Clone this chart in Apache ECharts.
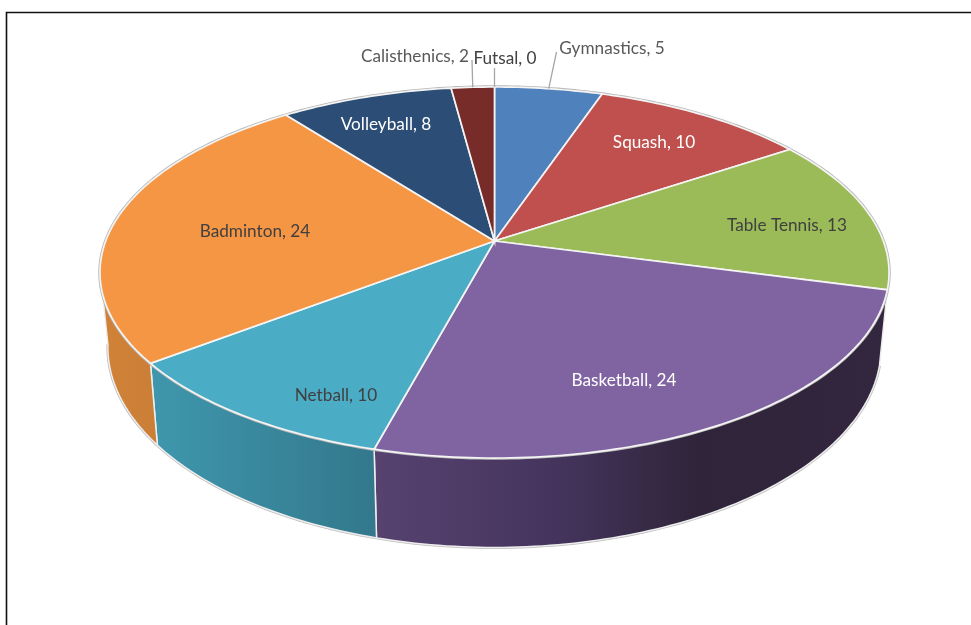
<!DOCTYPE html>
<html>
<head>
<meta charset="utf-8">
<style>html,body{margin:0;padding:0;background:#fff}#c{width:971px;height:625px}</style>
<script src="https://cdn.jsdelivr.net/npm/echarts@6/dist/echarts.min.js"></script>
</head>
<body>
<div id="c"></div>
<script>
const categories = ['Gymnastics','Squash','Table Tennis','Basketball','Netball','Badminton','Volleyball','Calisthenics','Futsal'];
const values = [5,10,13,24,10,24,8,2,0];

const topColors = ['#4f81bd','#c0504d','#9bbb59','#8064a2','#4bacc6','#f59644','#2c4d75','#772c2a','#5f7530'];
const labelColors = ['#595959','#ffffff','#404040','#ffffff','#404040','#404040','#ffffff','#595959','#404040'];
const labelCenters = [[612,48],[654,142],[787,225],[624,380],[336,395],[255,231],[386,124],[415,56],[505,58]];
const leaderEnds = [[556.5,52],null,null,null,null,null,null,[472,60],[494.5,68]];
const wallStops = {
  3: [[374,'#574270'],[560,'#44345c'],[700,'#2f2439'],[886,'#33263f']],
  4: [[150,'#3f97ad'],[374,'#33788c']],
  5: [[100,'#d08238'],[160,'#cb7e36']]
};

const P = {x:494.5, y:241, a:388.8, b:180.2, k:0.1698};
const B = {sx:0.98, sy:1.08, y:313};
const total = values.reduce((s,v)=>s+v,0);
const rad = d => d*Math.PI/180;
function rim(deg, bottom){
  const t = rad(deg), den = 1 + P.k*Math.cos(t);
  const X = P.a*Math.sin(t)/den, Y = P.b*Math.cos(t)/den;
  return bottom ? [P.x + X*B.sx, B.y - Y*B.sy] : [P.x + X, P.y - Y];
}
function arc(a0, a1, bottom){
  const pts = [], n = Math.max(2, Math.ceil(Math.abs(a1-a0)));
  for(let i=0;i<=n;i++) pts.push(rim(a0+(a1-a0)*i/n, bottom));
  return pts;
}
const tanR = 99.8, tanL = 261;
let acc = 0;
const rows = values.map((v,i)=>{ const s = acc; acc += v; return [i, s/total*360, acc/total*360]; });

function renderWall(params, api){
  const i = api.value(0);
  const a0 = Math.max(api.value(1), tanR), a1 = Math.min(api.value(2), tanL);
  if(a1 <= a0 || !wallStops[i]) return {type:'group', children:[]};
  const st = wallStops[i], x0 = st[0][0], x1 = st[st.length-1][0];
  const fill = new echarts.graphic.LinearGradient(x0,0,x1,0,
    st.map(s=>({offset:(s[0]-x0)/(x1-x0), color:s[1]})), true);
  const pts = arc(a0,a1,false).concat(arc(a1,a0,true));
  return {type:'group', children:[
    {type:'polyline', shape:{points:arc(a0,a1,true)}, style:{fill:null, stroke:'#bdbdbd', lineWidth:3}},
    {type:'polygon', shape:{points:pts}, style:{fill, stroke:'#eeeeee', lineWidth:1.5}}
  ]};
}
function renderTop(params, api){
  const i = api.value(0), a0 = api.value(1), a1 = api.value(2);
  const ch = [];
  if(a1 > a0){
    ch.push({type:'polyline', shape:{points:arc(a0,a1,false)}, style:{fill:null, stroke:'#b8b8b8', lineWidth:3.4}});
    ch.push({type:'polygon', shape:{points:[[P.x,P.y]].concat(arc(a0,a1,false))},
      style:{fill:topColors[i], stroke:'#f4f4f4', lineWidth:1.7}});
  }
  return {type:'group', children:ch};
}
function renderLabel(params, api){
  const i = api.value(0), mid = (api.value(1)+api.value(2))/2;
  const c = labelCenters[i], ch = [];
  if(leaderEnds[i]){
    const s = rim(mid,false), e = leaderEnds[i];
    ch.push({type:'line', shape:{x1:s[0],y1:s[1],x2:e[0],y2:e[1]}, style:{stroke:'#a6a6a6', lineWidth:1.3}});
  }
  ch.push({type:'text', x:c[0], y:c[1], style:{
    text:categories[i]+', '+values[i], fill:labelColors[i],
    font:'17.2px Lato, "Open Sans", sans-serif', align:'center', verticalAlign:'middle'}});
  return {type:'group', children:ch};
}
const base = {type:'custom', coordinateSystem:'none', data:rows, silent:true, animation:false,
  encode:{tooltip:[]}, clip:false};
const chart = echarts.init(document.getElementById('c'), null, {renderer:'canvas'});
chart.setOption({
  animation:false,
  backgroundColor:'#ffffff',
  graphic:[
    {type:'polyline', z:10, silent:true, shape:{points:[[6.5,625],[6.5,12.5],[971,12.5]]},
     style:{fill:null, stroke:'#111111', lineWidth:1.6}}
  ],
  series:[
    Object.assign({}, base, {name:'walls', z:1, renderItem:renderWall}),
    Object.assign({}, base, {name:'tops', z:2, renderItem:renderTop}),
    Object.assign({}, base, {name:'labels', z:3, renderItem:renderLabel})
  ]
});
</script>
</body>
</html>
